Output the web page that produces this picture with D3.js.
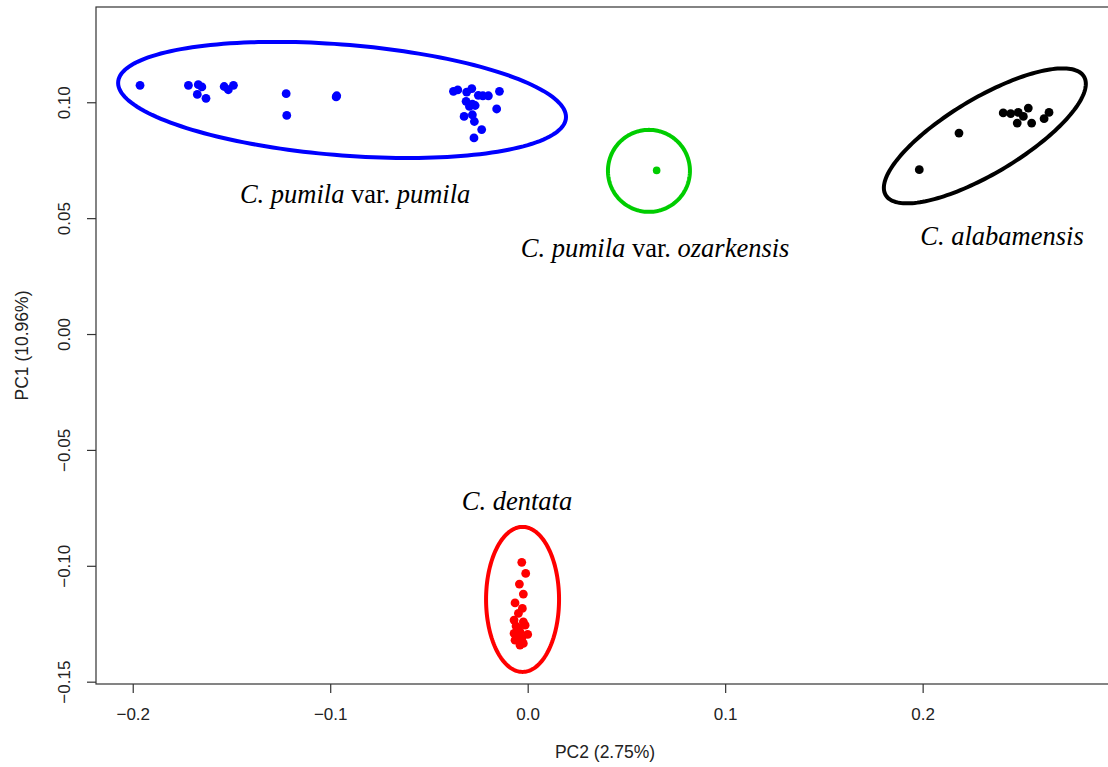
<!DOCTYPE html>
<html>
<head>
<meta charset="utf-8">
<script src="https://cdn.jsdelivr.net/npm/d3@7.9.0/dist/d3.min.js"></script>
<style>
  body { margin: 0; background: #fff; }
  svg { display: block; }
</style>
</head>
<body>
<div id="chart"></div>
<script>
// PC2 (x), PC1 (y) scores per group
const pumilaPoints = [
  [-0.1963, 0.1073], [-0.1718, 0.1073], [-0.1668, 0.1076], [-0.1650, 0.1066],
  [-0.1673, 0.1034], [-0.1629, 0.1017], [-0.1537, 0.1068], [-0.1516, 0.1054],
  [-0.1490, 0.1073], [-0.1223, 0.1037], [-0.1220, 0.0943], [-0.0967, 0.1028],
  [-0.0970, 0.1023], [-0.0376, 0.1047], [-0.0354, 0.1053], [-0.0309, 0.1044],
  [-0.0283, 0.1059], [-0.0250, 0.1030], [-0.0227, 0.1028], [-0.0199, 0.1028],
  [-0.0143, 0.1047], [-0.0312, 0.1004], [-0.0295, 0.0982], [-0.0266, 0.0986],
  [-0.0280, 0.0992], [-0.0157, 0.0971], [-0.0322, 0.0939], [-0.0280, 0.0946],
  [-0.0270, 0.0917], [-0.0233, 0.0882], [-0.0272, 0.0846]
];
const ozarkPoints = [[0.0653, 0.0706]];
const alabamaPoints = [
  [0.1983, 0.0709], [0.2184, 0.0867], [0.2408, 0.0954], [0.2446, 0.0951],
  [0.2484, 0.0956], [0.2535, 0.0975], [0.2510, 0.0939], [0.2479, 0.0910],
  [0.2552, 0.0910], [0.2615, 0.0929], [0.2640, 0.0956]
];
const dentataPoints = [
  [-0.0030, -0.0985], [-0.0010, -0.1033], [-0.0042, -0.1079], [-0.0022, -0.1122],
  [-0.0064, -0.1160], [-0.0027, -0.1184], [-0.0047, -0.1205], [-0.0069, -0.1234],
  [-0.0022, -0.1242], [-0.0059, -0.1260], [-0.0013, -0.1256], [0.0000, -0.1296],
  [-0.0069, -0.1292], [-0.0039, -0.1285], [-0.0064, -0.1321], [-0.0039, -0.1342],
  [-0.0022, -0.1335], [-0.0052, -0.1306], [-0.0049, -0.1269], [-0.0029, -0.1312]
];

// ellipses: center, first semi-diameter, second semi-diameter (data units)
const ellipseCenters = [[-0.0940, 0.1010], [0.0614, 0.0704], [0.2315, 0.0855], [-0.0026, -0.1145]];
const ellipseAxisA = [[0.1134, -0.00734], [0.02076, 0], [0.05114, 0.02244], [0.01848, 0]];
const ellipseAxisB = [[0, 0.02395], [0, 0.01769], [0, 0.01855], [0, 0.03128]];

const groupColors = ['#0000ff', '#00cd00', '#000000', '#ff0000'];
const groupPoints = [pumilaPoints, ozarkPoints, alabamaPoints, dentataPoints];

// group labels: [x, y] of text baseline centre, and text parts [text, italic]
const labelPos = [[-0.0874, 0.0566], [0.0645, 0.0332], [0.2402, 0.0384], [-0.0054, -0.0759]];
const labelParts = [
  [['C. pumila', true], [' var. ', false], ['pumila', true]],
  [['C. pumila', true], [' var. ', false], ['ozarkensis', true]],
  [['C. alabamensis', true]],
  [['C. dentata', true]]
];

const xTicks = [-0.2, -0.1, 0.0, 0.1, 0.2];
const yTicks = [-0.15, -0.10, -0.05, 0.00, 0.05, 0.10];

const width = 1108;
const height = 767;
const margin = { top: 7, right: -6, bottom: 83, left: 96 };

const svg = d3.select('#chart')
  .append('svg')
  .attr('width', width)
  .attr('height', height);

const x = d3.scaleLinear()
  .domain([-0.2186, 0.2969])
  .range([margin.left, width - margin.right]);

const y = d3.scaleLinear()
  .domain([-0.1510, 0.1411])
  .range([height - margin.bottom, margin.top]);

const fmtX = d3.format('.1f');
const fmtY = d3.format('.2f');
const tickFont = 'Liberation Sans, Arial, sans-serif';

// box
svg.append('rect')
  .attr('x', x.range()[0])
  .attr('y', y.range()[1])
  .attr('width', x.range()[1] - x.range()[0])
  .attr('height', y.range()[0] - y.range()[1])
  .attr('fill', 'none')
  .attr('stroke', '#333')
  .attr('stroke-width', 1.2);

// x axis
const xAxis = svg.append('g')
  .attr('transform', `translate(0,${y.range()[0]})`)
  .call(d3.axisBottom(x).tickValues(xTicks).tickSize(9).tickPadding(15).tickFormat(fmtX));
xAxis.select('.domain').remove();
xAxis.selectAll('line').attr('stroke', '#333').attr('stroke-width', 1.2);
xAxis.selectAll('text')
  .attr('font-family', tickFont)
  .attr('font-size', 17)
  .attr('fill', '#222');

// y axis
const yAxis = svg.append('g')
  .attr('transform', `translate(${x.range()[0]},0)`)
  .call(d3.axisLeft(y).tickValues(yTicks).tickSize(9).tickFormat(fmtY));
yAxis.select('.domain').remove();
yAxis.selectAll('line').attr('stroke', '#333').attr('stroke-width', 1.2);
yAxis.selectAll('text')
  .attr('font-family', tickFont)
  .attr('font-size', 17)
  .attr('fill', '#222')
  .attr('x', null)
  .attr('dy', null)
  .attr('text-anchor', 'middle')
  .attr('transform', 'translate(-26,0) rotate(-90)');

// axis titles
svg.append('text')
  .attr('x', (x.range()[0] + x.range()[1]) / 2)
  .attr('y', 758)
  .attr('text-anchor', 'middle')
  .attr('font-family', tickFont)
  .attr('font-size', 17.5)
  .attr('fill', '#222')
  .text('PC2 (2.75%)');

svg.append('text')
  .attr('transform', `translate(28,${(y.range()[0] + y.range()[1]) / 2}) rotate(-90)`)
  .attr('text-anchor', 'middle')
  .attr('font-family', tickFont)
  .attr('font-size', 17.5)
  .attr('fill', '#222')
  .text('PC1 (10.96%)');

// ellipses
const steps = d3.range(0, 2 * Math.PI, Math.PI / 90);
const ellipseLine = d3.line()
  .x(d => x(d[0]))
  .y(d => y(d[1]))
  .curve(d3.curveLinearClosed);

ellipseCenters.forEach((c, i) => {
  const a = ellipseAxisA[i];
  const b = ellipseAxisB[i];
  const pts = steps.map(t => [
    c[0] + a[0] * Math.cos(t) + b[0] * Math.sin(t),
    c[1] + a[1] * Math.cos(t) + b[1] * Math.sin(t)
  ]);
  svg.append('path')
    .attr('d', ellipseLine(pts))
    .attr('fill', 'none')
    .attr('stroke', groupColors[i])
    .attr('stroke-width', 4);
});

// points
groupPoints.forEach((pts, i) => {
  svg.append('g')
    .selectAll('circle')
    .data(pts)
    .join('circle')
    .attr('cx', d => x(d[0]))
    .attr('cy', d => y(d[1]))
    .attr('r', i === 1 ? 3.8 : 4.4)
    .attr('fill', groupColors[i]);
});

// group labels
labelPos.forEach((p, i) => {
  const t = svg.append('text')
    .attr('x', x(p[0]))
    .attr('y', y(p[1]))
    .attr('text-anchor', 'middle')
    .attr('font-family', 'Liberation Serif, Times New Roman, serif')
    .attr('font-size', 26.5)
    .attr('fill', '#000');
  labelParts[i].forEach(part => {
    t.append('tspan')
      .attr('font-style', part[1] ? 'italic' : 'normal')
      .text(part[0]);
  });
});
</script>
</body>
</html>
